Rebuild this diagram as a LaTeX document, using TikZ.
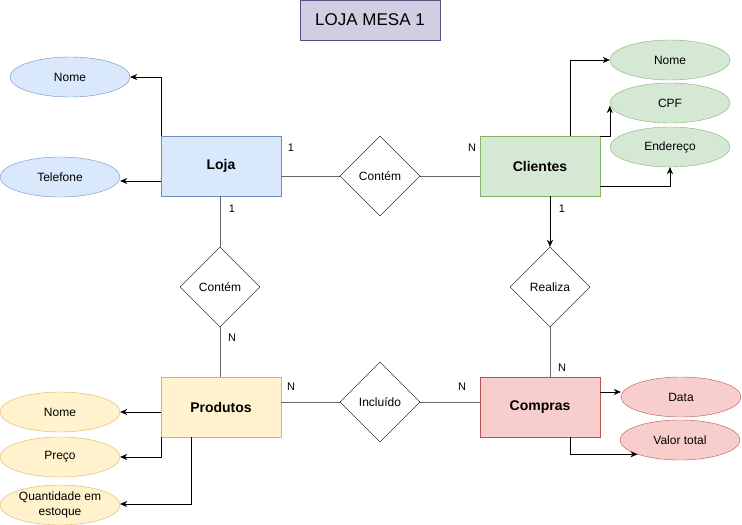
\documentclass[tikz,border=0pt]{standalone}
\usepackage{fontspec}
\setmainfont{Liberation Sans}
\usepackage{tikz}
\usetikzlibrary{shapes.geometric, arrows.meta, positioning}
\definecolor{lojafill}{HTML}{DAE8FC}
\definecolor{lojadraw}{HTML}{6C8EBF}
\definecolor{clifill}{HTML}{D5E8D4}
\definecolor{clidraw}{HTML}{82B366}
\definecolor{prodfill}{HTML}{FFF2CC}
\definecolor{proddraw}{HTML}{D6B656}
\definecolor{compfill}{HTML}{F8CECC}
\definecolor{compdraw}{HTML}{B85450}
\definecolor{titfill}{HTML}{D0CEE2}
\definecolor{titdraw}{HTML}{56517E}
\definecolor{linkgray}{HTML}{666666}
\tikzset{style={font=\fontsize{12}{15}\selectfont}}

\begin{document}
\begin{tikzpicture}[
            x=1pt, y=-1pt,
            entity/.style={
                draw, rectangle,
                minimum width=120pt, minimum height=60pt,
                inner sep=0pt,
                font=\fontsize{14}{16}\selectfont\bfseries,
            },
            attr/.style={
                draw, ellipse,
                minimum width=120pt, minimum height=40pt,
                inner sep=0pt, align=center,
            },
            rel/.style={
                draw, diamond,
                minimum width=80pt, minimum height=80pt,
                inner sep=0pt,
            },
            card/.style={font=\fontsize{11}{13}\selectfont, inner sep=0pt},
            link/.style={draw=linkgray},
            attrarrow/.style={-{Stealth[length=7pt,width=6pt]}},
            ]
        \useasboundingbox (0,0) rectangle (742,525);
        \node[draw=titdraw, fill=titfill, minimum width=140pt, minimum height=40pt,
              font=\fontsize{17}{20}\selectfont] (titulo) at (370,20) {LOJA MESA 1};
        % entidades
        \node[entity, fill=lojafill, draw=lojadraw] (loja) at (221,166) {Loja};
        \node[entity, fill=clifill, draw=clidraw] (clientes) at (540,166) {Clientes};
        \node[entity, fill=prodfill, draw=proddraw] (produtos) at (221,407) {Produtos};
        \node[entity, fill=compfill, draw=compdraw] (compras) at (540,407) {Compras};
        % relacionamentos
        \node[rel] (ctop) at (380,176) {Contém};
        \node[rel] (cleft) at (220,287) {Contém};
        \node[rel] (realiza) at (550,287) {Realiza};
        \node[rel] (incluido) at (380,402) {Incluído};
        % atributos
        \node[attr, fill=lojafill, draw=lojadraw] (lnome) at (70,77) {Nome};
        \node[attr, fill=lojafill, draw=lojadraw] (ltel) at (60,177) {Telefone};
        \node[attr, fill=clifill, draw=clidraw] (cnome) at (670,60) {Nome};
        \node[attr, fill=clifill, draw=clidraw] (ccpf) at (670,103) {CPF};
        \node[attr, fill=clifill, draw=clidraw] (cend) at (670,147) {Endereço};
        \node[attr, fill=prodfill, draw=proddraw] (pnome) at (60,412) {Nome};
        \node[attr, fill=prodfill, draw=proddraw] (ppreco) at (60,457) {Preço};
        \node[attr, fill=prodfill, draw=proddraw] (pqtd) at (60,505) {Quantidade em\\estoque};
        \node[attr, fill=compfill, draw=compdraw] (cdata) at (681,397) {Data};
        \node[attr, fill=compfill, draw=compdraw] (cvalor) at (680,440) {Valor total};
        % ligacoes
        \draw[link] (loja.east |- ctop.west) -- (ctop.west);
        \draw[link] (ctop.east) -- (ctop.east -| clientes.west);
        \draw[link] (cleft.north |- loja.south) -- (cleft.north);
        \draw[link] (cleft.south) -- (cleft.south |- produtos.north);
        \draw[attrarrow] (realiza.north |- clientes.south) -- (realiza.north);
        \draw[link] (realiza.south) -- (realiza.south |- compras.north);
        \draw[link] (produtos.east |- incluido.west) -- (incluido.west);
        \draw[link] (incluido.east) -- (incluido.east -| compras.west);
        % cardinalidades
        \node[card] (n1) at (291,148) {1};
        \node[card] (n2) at (472,148) {N};
        \node[card] (n3) at (232,209) {1};
        \node[card] (n4) at (232,338) {N};
        \node[card] (n5) at (562,209) {1};
        \node[card] (n6) at (562,368) {N};
        \node[card] (n7) at (291,387) {N};
        \node[card] (n8) at (462,387) {N};
        % setas dos atributos
        \draw[attrarrow] (loja.north west) |- (lnome.east);
        \draw[attrarrow] ([yshift=-15pt]loja.west) -- ([yshift=-4pt]ltel.east);
        \draw[attrarrow] ([xshift=30pt]clientes.north) |- (cnome.west);
        \draw[attrarrow] (clientes.north east) -| ([yshift=-3pt]ccpf.west);
        \draw[attrarrow] ([yshift=-20pt]clientes.east) -| (cend.south);
        \draw[attrarrow] ([yshift=-5pt]produtos.west) -- (pnome.east);
        \draw[attrarrow] (produtos.south west) |- (ppreco.east);
        \draw[attrarrow] ([xshift=-30pt]produtos.south) |- ([yshift=1pt]pqtd.east);
        \draw[attrarrow] ([yshift=15pt]compras.east) -- ([yshift=15pt]compras.east -| cdata.west);
        \draw[attrarrow] ([xshift=30pt]compras.south) |- (cvalor.south west);
        \end{tikzpicture}
\end{document}
